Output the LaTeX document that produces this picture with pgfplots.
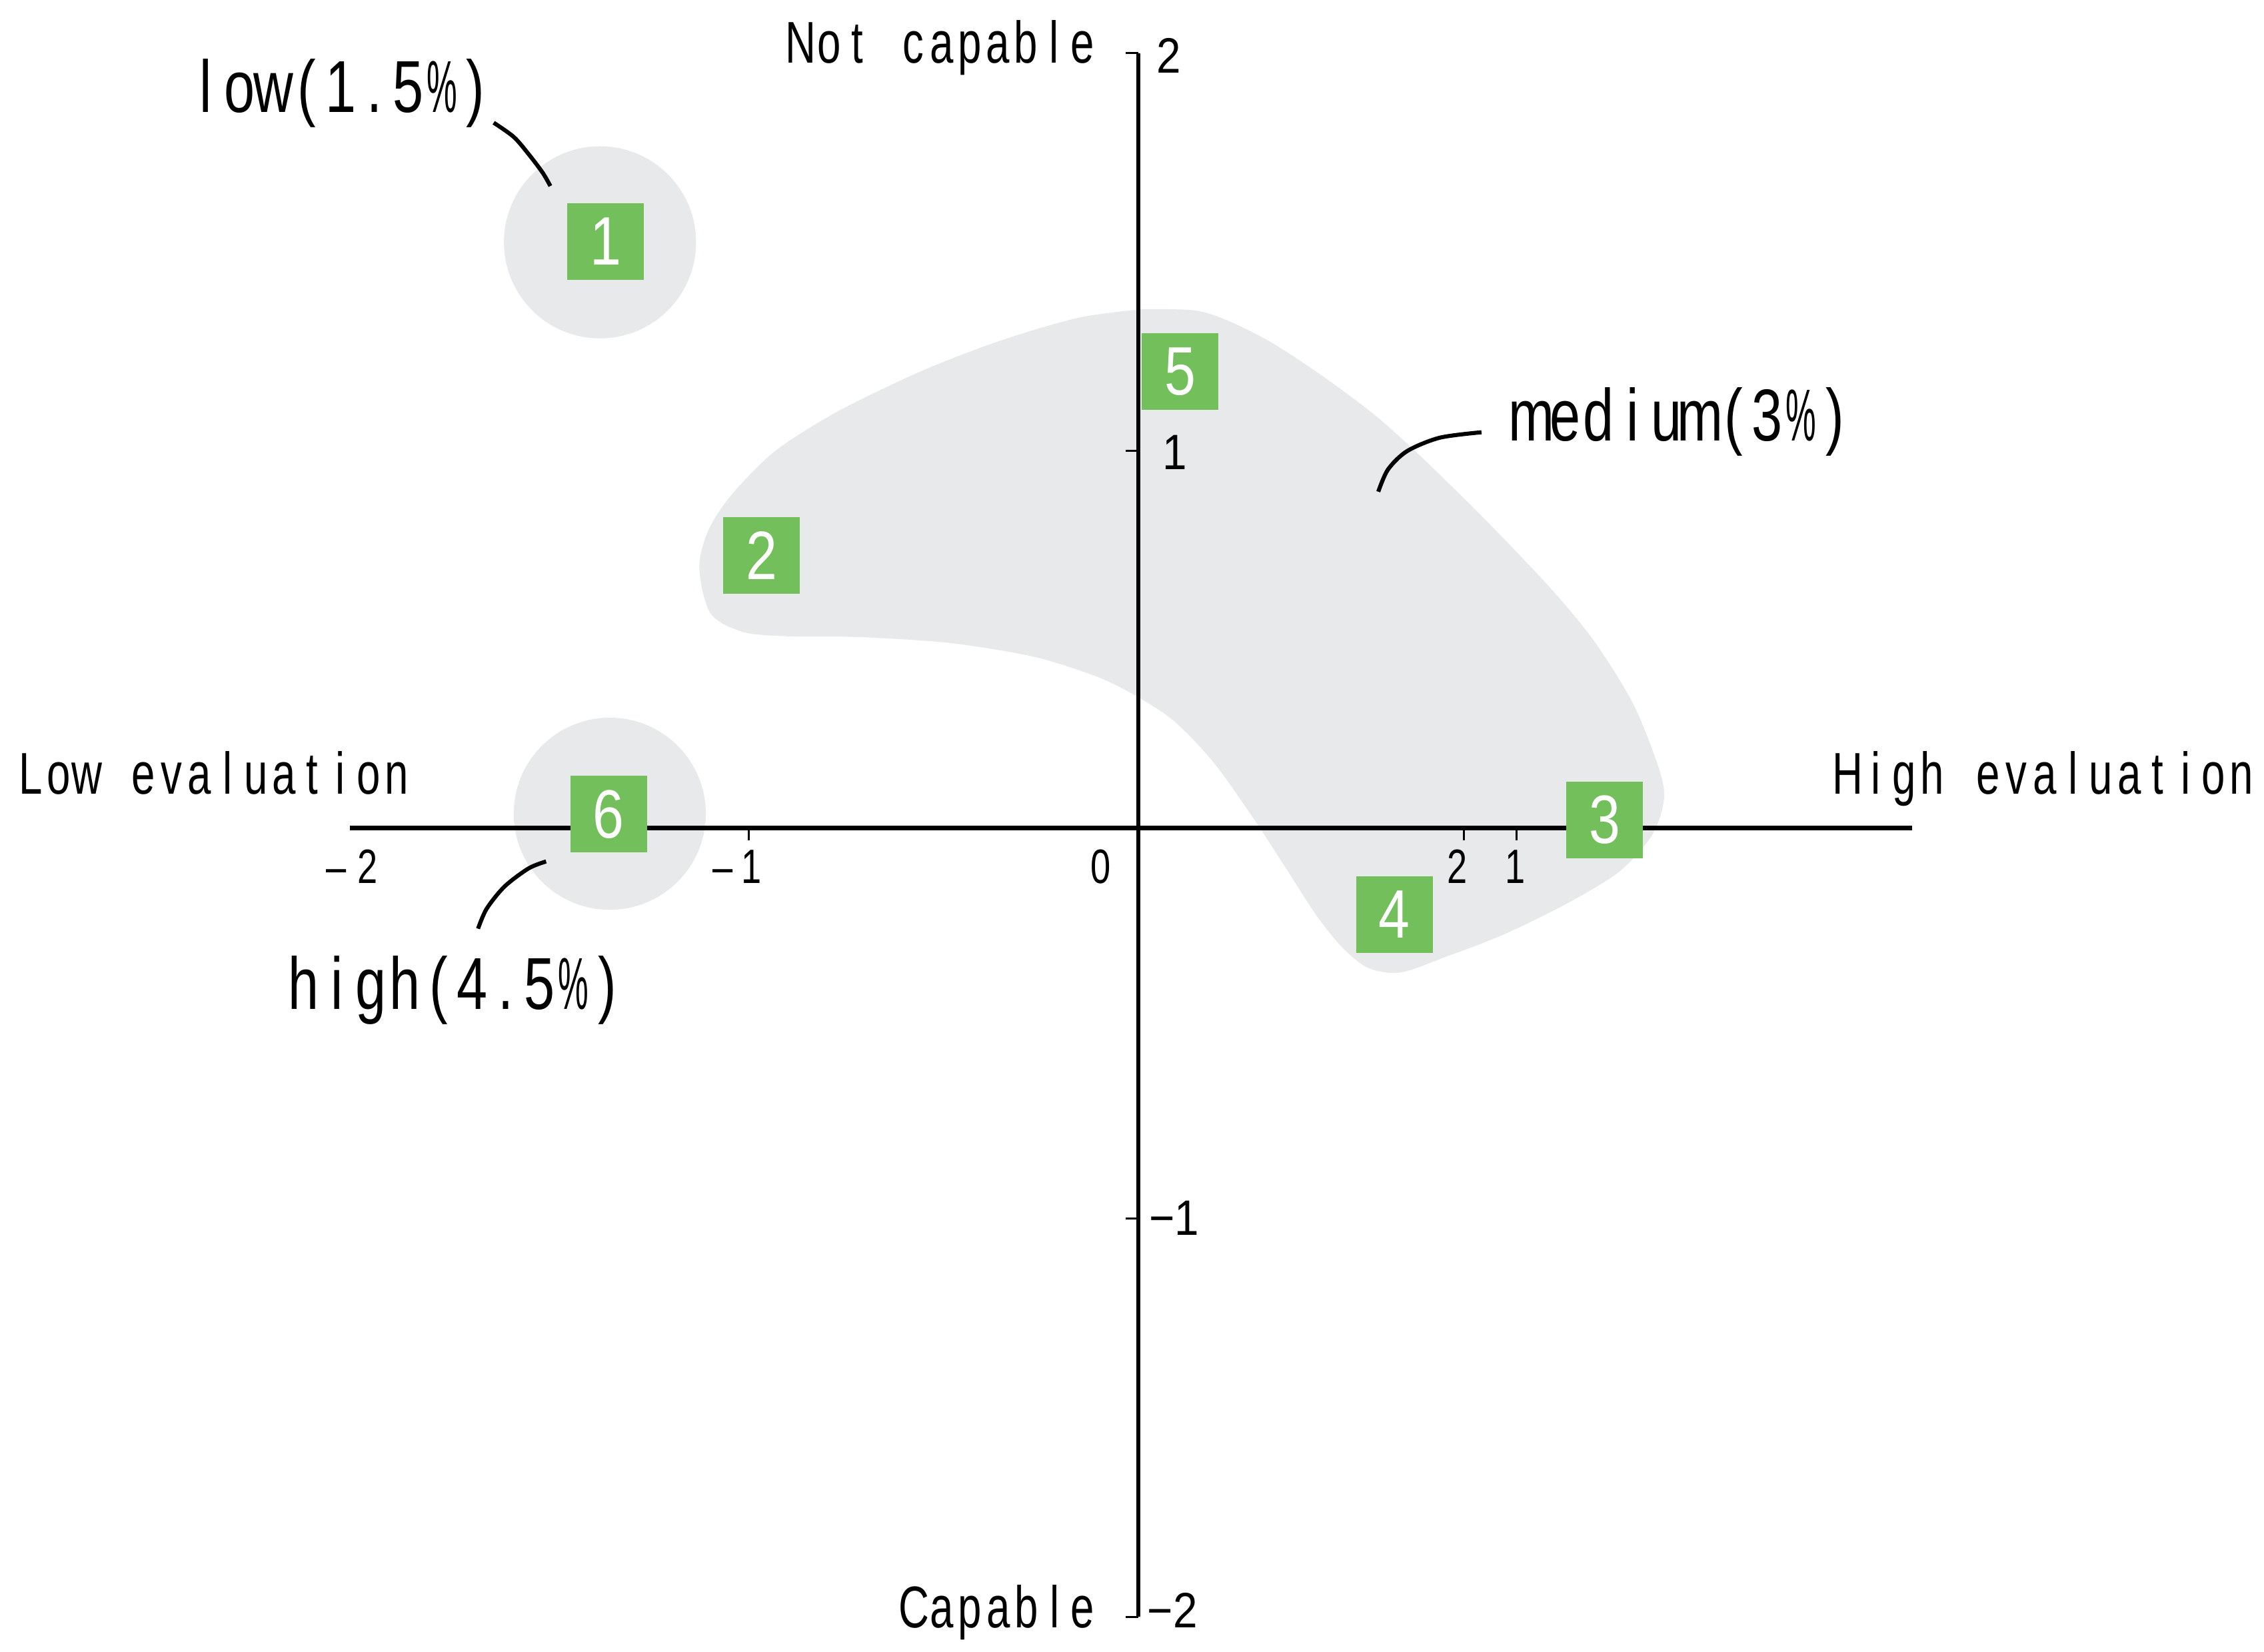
\documentclass[border=0pt]{standalone}
\usepackage{fontspec}
\setmainfont{Liberation Sans}
\usepackage{graphicx}
\usepackage{pgfplots}
\pgfplotsset{compat=1.18}

\definecolor{blobgray}{RGB}{232,233,235}
\definecolor{boxgreen}{RGB}{114,191,91}

% fixed-pitch, condensed text: each character in a cell of width #1, squeezed by #2
\newlength\cw
\def\sq{0.72}
\def\mono#1#2#3{\setlength\cw{#1}\def\sq{#2}\monoA#3\relax}
\def\monoA#1{\ifx#1\relax\else\makebox[\cw][c]{\scalebox{\sq}[1]{#1}}\expandafter\monoA\fi}
\newcommand\pct{\scalebox{0.62}[1]{\%}}

\begin{document}
\begin{tikzpicture}
\begin{axis}[
    set layers,
    x=27.07mm, y=27.07mm,
    xmin=-2.017, xmax=1.979,
    ymin=-2.018, ymax=1.983,
    axis lines=middle,
    x axis line style={-, line width=0.95pt},
    y axis line style={-, line width=0.8pt},
    xtick={-0.997,0.833,0.967},
    ytick={-2.018,-0.999,0.966,1.983},
    xticklabels=\empty, yticklabels=\empty,
    tick align=outside,
    major tick length=0.85mm,
    tick style={black, line width=0.4pt},
    clip=false,
]

% page frame
\path (axis cs:-2.912,2.119) rectangle (axis cs:2.880,-2.107);

% medium group
\addplot [on layer=axis background, fill=blobgray, draw=none, smooth] coordinates {
    (0.011,1.328) (0.143,1.325) (0.226,1.300) (0.342,1.242) (0.474,1.155)
    (0.605,1.057) (0.721,0.953) (0.886,0.791) (1.051,0.618) (1.166,0.479)
    (1.266,0.318) (1.331,0.156) (1.345,0.075) (1.315,-0.017) (1.232,-0.110)
    (1.100,-0.191) (0.935,-0.272) (0.787,-0.329) (0.672,-0.369) (0.589,-0.358)
    (0.523,-0.306) (0.457,-0.225) (0.375,-0.098) (0.292,0.029) (0.193,0.168)
    (0.094,0.272) (0.000,0.335) (-0.104,0.387) (-0.269,0.439) (-0.483,0.474)
    (-0.714,0.489) (-0.896,0.491) (-1.011,0.502) (-1.094,0.549) (-1.123,0.664)
    (-1.102,0.757) (-1.044,0.849) (-0.929,0.965) (-0.764,1.069) (-0.549,1.172)
    (-0.351,1.248) (-0.153,1.306) (0.011,1.328)
};

% low and high groups
\addplot [on layer=axis background, mark layer=axis background,
    only marks, mark=*, mark size=6.6mm,
    color=blobgray, mark options={fill=blobgray, draw=blobgray, line width=0.3pt}]
    coordinates {
    (-1.377,1.499) (-1.352,0.037)
};

% callout lines
\addplot [black, line width=0.8pt, smooth, no marks] coordinates {
    (-1.649,1.805) (-1.597,1.768) (-1.556,1.720) (-1.523,1.676) (-1.504,1.643)
};
\addplot [black, line width=0.8pt, smooth, no marks] coordinates {
    (0.878,1.013) (0.771,0.999) (0.688,0.965) (0.639,0.918) (0.614,0.861)
};
\addplot [black, line width=0.8pt, smooth, no marks] coordinates {
    (-1.515,-0.085) (-1.560,-0.103) (-1.621,-0.149) (-1.667,-0.206) (-1.689,-0.257)
};

% numbered items
\addplot [only marks, mark=square*, mark size=2.6mm, color=boxgreen,
    mark options={fill=boxgreen, draw=boxgreen, line width=0.3pt},
    point meta=explicit symbolic,
    nodes near coords={\scalebox{0.82}[1]{\pgfplotspointmeta}},
    every node near coord/.append style={anchor=center, inner sep=0pt,
        text=white, font=\fontsize{13.5}{15}\selectfont}]
    coordinates {
    (-1.363,1.501) [1]
    (-0.964,0.698) [2]
    (1.193,0.021) [3]
    (0.655,-0.221) [4]
    (0.107,1.168) [5]
    (-1.355,0.036) [6]
};

% axis titles
\begin{scope}[every node/.style={anchor=base west, inner sep=0pt,
    font=\fontsize{11.6}{13}\selectfont}]
\node at (axis cs:-2.872,0.0872) {\mono{1.95mm}{0.72}{Low~evaluation}};
\node at (axis cs:1.776,0.0872) {\mono{1.95mm}{0.72}{High~evaluation}};
\node at (axis cs:-0.902,1.957) {\mono{1.95mm}{0.72}{Not~capable}};
\node at (axis cs:-0.613,-2.046) {\mono{1.95mm}{0.72}{Capable}};
\end{scope}

% group labels
\begin{scope}[every node/.style={anchor=base west, inner sep=0pt,
    font=\fontsize{14.5}{16}\selectfont}]
\node at (axis cs:-2.431,1.832) {\mono{2.335mm}{0.75}{low(1.5\pct)}};
\node at (axis cs:0.960,0.991) {\mono{2.335mm}{0.75}{medium(3\pct)}};
\node at (axis cs:-2.181,-0.464) {\mono{2.335mm}{0.75}{high(4.5\pct)}};
\end{scope}

% x tick labels
\begin{scope}[every node/.style={anchor=base, inner sep=0pt,
    font=\fontsize{9.5}{11}\selectfont}]
\node at (axis cs:-2.051,-0.1404) {\scalebox{0.75}[1]{–}};
\node at (axis cs:-1.971,-0.1404) {\scalebox{0.75}[1]{2}};
\node at (axis cs:-1.062,-0.1404) {\scalebox{0.75}[1]{–}};
\node at (axis cs:-0.989,-0.1404) {\scalebox{0.75}[1]{1}};
\node at (axis cs:-0.0964,-0.1404) {\scalebox{0.75}[1]{0}};
\node at (axis cs:0.816,-0.1404) {\scalebox{0.75}[1]{2}};
\node at (axis cs:0.965,-0.1404) {\scalebox{0.75}[1]{1}};
\end{scope}

% y tick labels
\begin{scope}[every node/.style={anchor=base west, inner sep=0pt,
    font=\fontsize{9.8}{11}\selectfont}]
\node at (axis cs:0.045,1.932) {\scalebox{0.88}[1]{2}};
\node at (axis cs:0.060,0.918) {\scalebox{0.88}[1]{1}};
\node at (axis cs:0.025,-1.042) {\scalebox{0.88}[1]{−1}};
\node at (axis cs:0.021,-2.046) {\scalebox{0.88}[1]{−2}};
\end{scope}

\end{axis}
\end{tikzpicture}
\end{document}
